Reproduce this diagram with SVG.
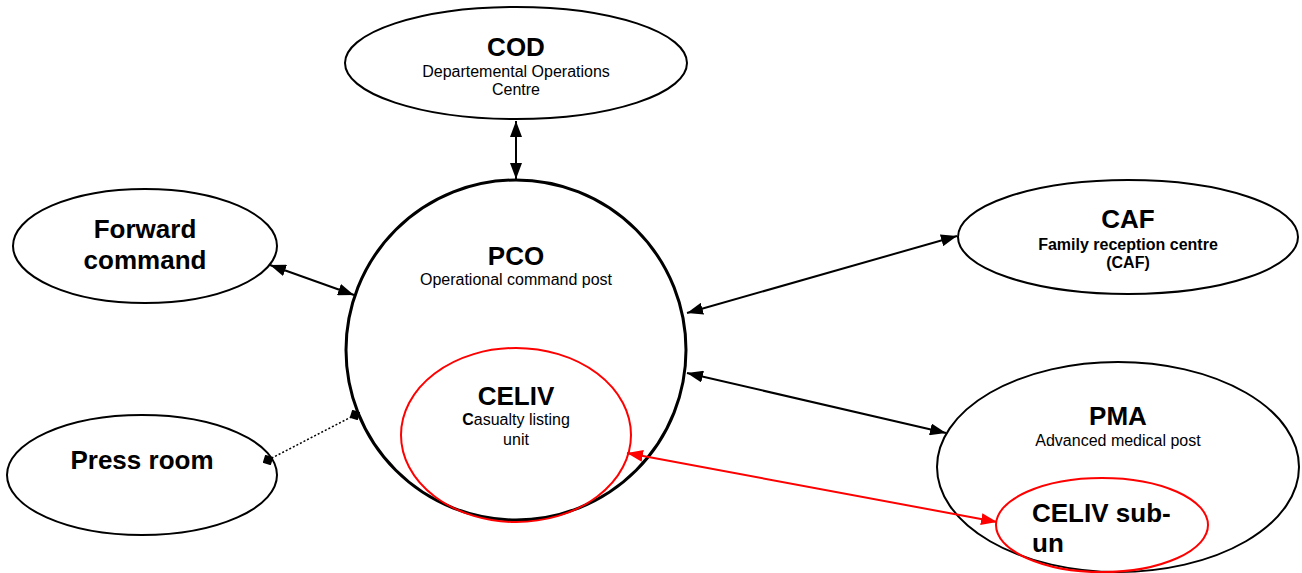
<svg xmlns="http://www.w3.org/2000/svg" width="1302" height="573" viewBox="0 0 1302 573">
<defs>
<style>
.n{fill:#fff;stroke:#000;stroke-width:2}
.r{fill:none;stroke:#f00;stroke-width:2}
.t{font-family:"Liberation Sans",Arial,sans-serif;text-anchor:middle;fill:#000}
.b{font-weight:bold;font-size:26px}
.s{font-size:16px}
.sb{font-size:16px;font-weight:bold}
.c{stroke:#000;stroke-width:2;fill:none}
</style>
<marker id="ah" viewBox="0 0 16 12" refX="16" refY="6" markerWidth="16" markerHeight="12" markerUnits="userSpaceOnUse" orient="auto-start-reverse"><path d="M0,0L16,6L0,12z" fill="#000"/></marker>
<marker id="ahr" viewBox="0 0 16 12" refX="16" refY="6" markerWidth="16" markerHeight="12" markerUnits="userSpaceOnUse" orient="auto-start-reverse"><path d="M0,0L16,6L0,12z" fill="#f00"/></marker>
<marker id="dm" viewBox="0 0 12 12" refX="6" refY="6" markerWidth="12" markerHeight="12" markerUnits="userSpaceOnUse" orient="auto"><path d="M0,6L6,0L12,6L6,12z" fill="#000"/></marker>
</defs>
<g id="cod"><ellipse class="n" cx="516" cy="63" rx="171" ry="56"/>
<text class="t b" x="516" y="56">COD</text>
<text class="t s" x="516" y="77">Departemental Operations</text>
<text class="t s" x="516" y="95">Centre</text></g>
<g id="pco"><circle cx="516" cy="350" r="170" fill="#fff" stroke="#000" stroke-width="3"/>
<text class="t b" x="516" y="265">PCO</text>
<text class="t s" x="516" y="285">Operational command post</text></g>
<g id="celiv"><ellipse class="r" cx="516" cy="435" rx="115" ry="87"/>
<text class="t b" x="516" y="405">CELIV</text>
<text class="t s" x="516" y="425"><tspan font-weight="bold">C</tspan>asualty listing</text>
<text class="t s" x="516" y="445">unit</text></g>
<g id="forward"><ellipse class="n" cx="145" cy="246" rx="132" ry="57"/>
<text class="t b" x="145" y="238">Forward</text>
<text class="t b" x="145" y="269">command</text></g>
<g id="press"><ellipse class="n" cx="142" cy="475" rx="135" ry="60"/>
<text class="t b" x="142" y="469">Press room</text></g>
<g id="caf"><ellipse class="n" cx="1128" cy="237" rx="170" ry="57"/>
<text class="t b" x="1128" y="228">CAF</text>
<text class="t sb" x="1128" y="250">Family reception centre</text>
<text class="t sb" x="1128" y="268">(CAF)</text></g>
<g id="pma"><ellipse class="n" cx="1118" cy="467" rx="181" ry="105"/>
<text class="t b" x="1118" y="425">PMA</text>
<text class="t s" x="1118" y="446">Advanced medical post</text></g>
<g id="celivsub"><ellipse class="r" cx="1102" cy="525" rx="106" ry="47"/>
<text class="t b" x="1032" y="522" style="text-anchor:start">CELIV sub-</text>
<text class="t b" x="1032" y="552" style="text-anchor:start">un</text></g>
<g id="connectors">
<line class="c" x1="516" y1="121" x2="516" y2="179" marker-start="url(#ah)" marker-end="url(#ah)"/>
<line class="c" x1="270" y1="265" x2="354" y2="295" marker-start="url(#ah)" marker-end="url(#ah)"/>
<line x1="268" y1="460" x2="355" y2="415" stroke="#000" stroke-width="1.5" stroke-dasharray="2,2" marker-start="url(#dm)" marker-end="url(#dm)"/>
<line class="c" x1="687" y1="313" x2="957" y2="236" marker-start="url(#ah)" marker-end="url(#ah)"/>
<line class="c" x1="687" y1="373" x2="946" y2="433" marker-start="url(#ah)" marker-end="url(#ah)"/>
<line x1="627" y1="453" x2="997" y2="522" stroke="#f00" stroke-width="2" marker-start="url(#ahr)" marker-end="url(#ahr)"/>
</g>
</svg>
